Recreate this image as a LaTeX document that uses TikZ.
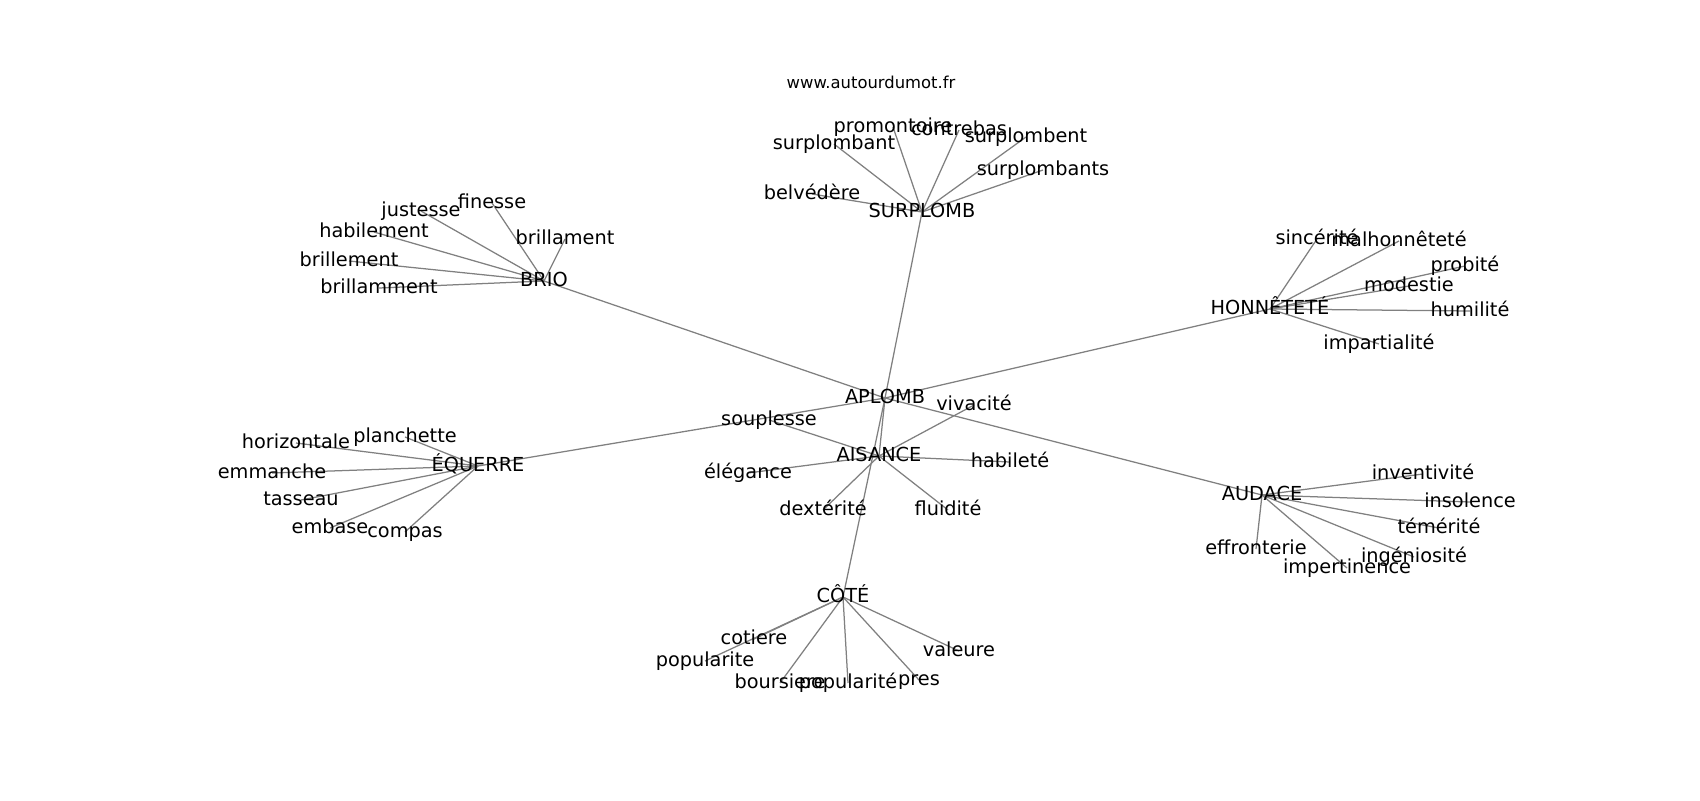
\documentclass[tikz,border=0pt]{standalone}
\usepackage{fontspec}
\setmainfont{DejaVu Sans}
\usetikzlibrary{backgrounds}
\tikzset{
  lbl/.style={font=\fontsize{13.9pt}{15pt}\selectfont, inner sep=0pt, text height=10.8pt, text depth=3.1pt, anchor=center, text=black},
  ttl/.style={font=\fontsize{11.8pt}{13pt}\selectfont, inner sep=0pt, text height=9.1pt, text depth=2.7pt, anchor=center, text=black},
  edge/.style={draw=black!50, line width=0.9pt}
}
\begin{document}
\begin{tikzpicture}[x=0.72pt, y=-0.72pt]
\useasboundingbox (0,0) rectangle (1700,800);
\node[ttl] (title) at (871,84) {www.autourdumot.fr};
% hubs
\node[lbl] (aplomb) at (885,398) {APLOMB};
\node[lbl] (surplomb) at (922,212) {SURPLOMB};
\node[lbl] (brio) at (544,281) {BRIO};
\node[lbl] (honn) at (1270,309) {HONNÊTETÉ};
\node[lbl] (equerre) at (478,466) {ÉQUERRE};
\node[lbl] (aisance) at (879,456) {AISANCE};
\node[lbl] (audace) at (1262,495) {AUDACE};
\node[lbl] (cote) at (843,597) {CÔTÉ};
% surplomb
\node[lbl] (promontoire) at (893,127) {promontoire};
\node[lbl] (contrebas) at (959,130) {contrebas};
\node[lbl] (surplombant) at (834,144) {surplombant};
\node[lbl] (surplombent) at (1026,137) {surplombent};
\node[lbl] (surplombants) at (1043,170) {surplombants};
\node[lbl] (belvedere) at (812,194) {belvédère};
% brio
\node[lbl] (finesse) at (492,203) {finesse};
\node[lbl] (justesse) at (421,211) {justesse};
\node[lbl] (habilement) at (374,232) {habilement};
\node[lbl] (brillament) at (565,239) {brillament};
\node[lbl] (brillement) at (349,261) {brillement};
\node[lbl] (brillamment) at (379,288) {brillamment};
% honnetete
\node[lbl] (sincerite) at (1317,239) {sincérité};
\node[lbl] (malhonnetete) at (1399,241) {malhonnêteté};
\node[lbl] (probite) at (1465,266) {probité};
\node[lbl] (modestie) at (1409,286) {modestie};
\node[lbl] (humilite) at (1470,311) {humilité};
\node[lbl] (impartialite) at (1379,344) {impartialité};
% equerre
\node[lbl] (horizontale) at (296,443) {horizontale};
\node[lbl] (planchette) at (405,437) {planchette};
\node[lbl] (emmanche) at (272,473) {emmanche};
\node[lbl] (tasseau) at (301,500) {tasseau};
\node[lbl] (embase) at (330,528) {embase};
\node[lbl] (compas) at (405,532) {compas};
% aisance
\node[lbl] (souplesse) at (769,420) {souplesse};
\node[lbl] (vivacite) at (974,405) {vivacité};
\node[lbl] (elegance) at (748,473) {élégance};
\node[lbl] (habilete) at (1010,462) {habileté};
\node[lbl] (dexterite) at (823,510) {dextérité};
\node[lbl] (fluidite) at (948,510) {fluidité};
% audace
\node[lbl] (inventivite) at (1423,474) {inventivité};
\node[lbl] (insolence) at (1470,502) {insolence};
\node[lbl] (temerite) at (1439,528) {témérité};
\node[lbl] (ingeniosite) at (1414,557) {ingéniosité};
\node[lbl] (effronterie) at (1256,549) {effronterie};
\node[lbl] (impertinence) at (1347,568) {impertinence};
% cote
\node[lbl] (cotiere) at (754,639) {cotiere};
\node[lbl] (popularite) at (705,661) {popularite};
\node[lbl] (boursiere) at (780,683) {boursiere};
\node[lbl] (popularite2) at (848,683) {popularité};
\node[lbl] (pres) at (919,680) {pres};
\node[lbl] (valeure) at (959,651) {valeure};
\begin{pgfonlayer}{background}
\fill[white] (0,0) rectangle (1700,800);
\foreach \a/\b in {aplomb/surplomb, aplomb/brio, aplomb/honn, aplomb/equerre, aplomb/aisance, aplomb/audace, aplomb/cote,
  surplomb/promontoire, surplomb/contrebas, surplomb/surplombant, surplomb/surplombent, surplomb/surplombants, surplomb/belvedere,
  brio/finesse, brio/justesse, brio/habilement, brio/brillament, brio/brillement, brio/brillamment,
  honn/sincerite, honn/malhonnetete, honn/probite, honn/modestie, honn/humilite, honn/impartialite,
  equerre/horizontale, equerre/planchette, equerre/emmanche, equerre/tasseau, equerre/embase, equerre/compas,
  aisance/souplesse, aisance/vivacite, aisance/elegance, aisance/habilete, aisance/dexterite, aisance/fluidite,
  audace/inventivite, audace/insolence, audace/temerite, audace/ingeniosite, audace/effronterie, audace/impertinence,
  cote/cotiere, cote/popularite, cote/boursiere, cote/popularite2, cote/pres, cote/valeure}
  \draw[edge] (\a.center) -- (\b.center);
\end{pgfonlayer}
\end{tikzpicture}
\end{document}
